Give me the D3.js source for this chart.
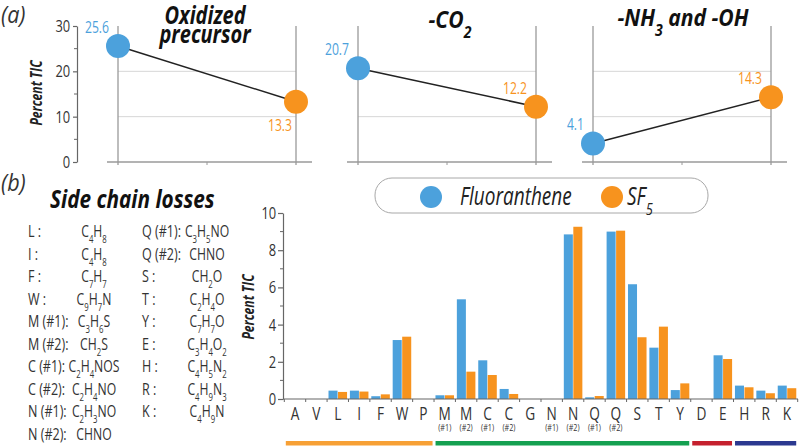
<!DOCTYPE html>
<html><head><meta charset="utf-8">
<script src="https://cdn.jsdelivr.net/npm/d3@7"></script>
<style>
html,body{margin:0;padding:0;background:#fff;}
svg{display:block;}
text{font-family:"Open Sans","Noto Sans","DejaVu Sans",sans-serif;}
</style></head>
<body><svg id="chart" width="800" height="446"></svg>
<script>
// ---------- DATA ----------
const seriesNames = ["Fluoranthene", "SF5"];
const panelTitles = [["Oxidized", "precursor"], ["-CO_2"], ["-NH_3 and -OH"]];
const panelFluor = [25.6, 20.7, 4.1];
const panelSF5 = [13.3, 12.2, 14.3];
const topTicks = [0, 10, 20, 30];
const topMinorTicks = [5, 15, 25];

const categories = ["A","V","L","I","F","W","P","M","M","C","C","G","N","N","Q","Q","S","T","Y","D","E","H","R","K"];
const catSubLabels = ["","","","","","","","(#1)","(#2)","(#1)","(#2)","","(#1)","(#2)","(#1)","(#2)","","","","","","","",""];
const fluorValues = [0,0,0.45,0.45,0.15,3.17,0,0.2,5.36,2.08,0.54,0,0,8.85,0.09,9.0,6.17,2.76,0.48,0,2.35,0.72,0.45,0.72];
const sf5Values   = [0,0,0.38,0.40,0.25,3.35,0,0.2,1.47,1.29,0.27,0,0,9.26,0.16,9.05,3.32,3.89,0.84,0,2.15,0.63,0.31,0.58];
const barTicks = [0,2,4,6,8,10];
const barMinorTicks = [1,3,5,7,9];
const groupStart = [0, 7, 19, 21];
const groupEnd = [6, 18, 20, 23];
const groupColors = ["#f7a035", "#14a050", "#c5202e", "#2b3990"];

const sideLeft = [["L :","C4H8"],["I :","C4H8"],["F :","C7H7"],["W :","C9H7N"],["M (#1):","C3H6S"],["M (#2):","CH2S"],["C (#1):","C2H4NOS"],["C (#2):","C2H4NO"],["N (#1):","C2H3NO"],["N (#2):","CHNO"]];
const sideRight = [["Q (#1):","C3H5NO"],["Q (#2):","CHNO"],["S :","CH2O"],["T :","C2H4O"],["Y :","C7H7O"],["E :","C3H4O2"],["H :","C4H5N2"],["R :","C4H9N3"],["K :","C4H9N"]];

// ---------- STYLE ----------
const BLUE = "#4ca1dc", ORANGE = "#f7931e", INK = "#333", AXIS = "#666";
const SX = 0.76; // horizontal condensing of glyphs
const svg = d3.select("#chart");

function tf(x, y, sx, rot) {
  return `translate(${x},${y})${rot ? ` rotate(${rot})` : ""} scale(${sx == null ? SX : sx},1)`;
}
function addText(parent, x, y, str, o) {
  o = o || {};
  const t = parent.append("text").attr("transform", tf(x, y, o.sx, o.rotate))
    .attr("font-size", o.size || 16).attr("fill", o.fill || INK)
    .attr("text-anchor", o.anchor || "start");
  if (o.bold) t.attr("font-weight", "bold");
  if (o.italic) t.attr("font-style", "italic");
  if (str != null) t.text(str);
  return t;
}
// text with subscripts; "_x" marks a subscript char, or digits when formula=true
function richText(sel, str, size, subSize, formula) {
  const parts = [];
  if (formula) {
    str.split(/(\d+)/).forEach(p => { if (p) parts.push({t: p, sub: /^\d+$/.test(p)}); });
  } else {
    str.split(/_(\w)/).forEach((p, i) => { if (p) parts.push({t: p, sub: i % 2 === 1}); });
  }
  const shift = Math.round(size * 0.4);
  let down = false;
  parts.forEach(p => {
    const ts = sel.append("tspan").text(p.t);
    if (p.sub && !down) { ts.attr("dy", shift).attr("font-size", subSize); down = true; }
    else if (!p.sub && down) { ts.attr("dy", -shift); down = false; }
    else if (p.sub) ts.attr("font-size", subSize);
  });
}

// ---------- (a) TOP PANELS ----------
const yTop = d3.scaleLinear().domain([0, 30]).range([162, 26]);
const panelLeft = [118, 358, 593];
const panelW = 178;
const titleCenter = [205, 450, 683];

addText(svg, 1, 23, "(a)", {size: 24, italic: true, sx: 0.9});

const yAx = svg.append("g").attr("transform", "translate(77,0)")
  .call(d3.axisLeft(yTop).tickValues(topTicks).tickSize(4).tickSizeOuter(0).tickPadding(5));
yAx.select(".domain").attr("stroke", AXIS).attr("stroke-width", 1.2);
yAx.selectAll(".tick line").attr("stroke", AXIS).attr("stroke-width", 1.2);
yAx.selectAll(".tick text").attr("font-size", 17).attr("fill", INK).attr("transform", `scale(${SX},1)`);
yAx.append("g").selectAll("line").data(topMinorTicks).join("line")
  .attr("x1", -3).attr("x2", 0).attr("y1", d => yTop(d)).attr("y2", d => yTop(d)).attr("stroke", AXIS);
addText(svg, 42, 93, "Percent TIC", {size: 16, bold: true, italic: true, anchor: "middle", rotate: -90, fill: "#222"});

const labelBelow = [[false, true], [false, false], [false, false]];

panelTitles.forEach((title, i) => {
  const x0 = panelLeft[i], x1 = x0 + panelW;
  const xp = d3.scalePoint().domain(seriesNames).range([x0, x1]);
  const g = svg.append("g");
  g.selectAll("line.h").data([10, 20]).join("line")
    .attr("x1", x0).attr("x2", x1).attr("y1", d => yTop(d)).attr("y2", d => yTop(d))
    .attr("stroke", "#d6d6d6").attr("stroke-width", 1);
  g.selectAll("line.v").data(seriesNames).join("line")
    .attr("x1", d => xp(d)).attr("x2", d => xp(d)).attr("y1", yTop(30)).attr("y2", yTop(0) + 3)
    .attr("stroke", "#9a9a9a").attr("stroke-width", 1.3);
  g.append("line").attr("x1", x0 - 11).attr("x2", x1 + 16).attr("y1", yTop(0)).attr("y2", yTop(0))
    .attr("stroke", "#9a9a9a").attr("stroke-width", 1.3);
  g.append("line").attr("x1", (x0 + x1) / 2).attr("x2", (x0 + x1) / 2).attr("y1", yTop(0)).attr("y2", yTop(0) + 3)
    .attr("stroke", "#9a9a9a").attr("stroke-width", 1);
  const vals = [panelFluor[i], panelSF5[i]];
  g.append("line").attr("x1", xp(seriesNames[0])).attr("y1", yTop(vals[0]))
    .attr("x2", xp(seriesNames[1])).attr("y2", yTop(vals[1])).attr("stroke", "#222").attr("stroke-width", 1.5);
  g.selectAll("circle").data(vals).join("circle")
    .attr("cx", (d, j) => xp(seriesNames[j])).attr("cy", d => yTop(d)).attr("r", 12)
    .attr("fill", (d, j) => j ? ORANGE : BLUE);
  g.selectAll("text.val").data(vals).join("text").attr("class", "val")
    .attr("transform", (d, j) => tf(xp(seriesNames[j]) - (labelBelow[i][j] ? 4 : 9),
                                    yTop(d) + (labelBelow[i][j] ? 29 : -13)))
    .attr("text-anchor", "end").attr("font-size", 16)
    .attr("fill", (d, j) => j ? ORANGE : BLUE).text(d => d.toFixed(1));
  title.forEach((line, k) => {
    const multi = title.length > 1;
    const yy = (multi ? 24 : (i === 1 ? 28 : 26)) + k * 19;
    const t = addText(svg, titleCenter[i], yy, null,
      {size: multi ? 25 : 24, bold: true, italic: true, anchor: "middle", fill: "#111", sx: multi ? 0.8 : 0.88});
    richText(t, line, 24, 16, false);
  });
});

// ---------- (b) SIDE CHAIN LIST ----------
addText(svg, 1, 191, "(b)", {size: 24, italic: true, sx: 0.9});
addText(svg, 50, 208, "Side chain losses", {size: 25, bold: true, italic: true, fill: "#111", sx: 0.83});

const rowY = d3.scalePoint().domain(d3.range(sideLeft.length)).range([237, 440]);
function drawList(list, labelX, formulaX) {
  list.forEach((r, i) => {
    addText(svg, labelX, rowY(i), r[0], {size: 16.5, sx: 0.76});
    const t = addText(svg, formulaX, rowY(i), null, {size: 16.5, anchor: "middle", sx: 0.74});
    richText(t, r[1], 14, 10.5, true);
  });
}
drawList(sideLeft, 28, 94);
drawList(sideRight, 142, 207);

// ---------- (b) BAR CHART ----------
const x = d3.scaleBand().domain(d3.range(categories.length)).range([284.3, 797.7]).padding(0);
const xi = d3.scaleBand().domain(seriesNames).range([0, x.bandwidth()]).paddingInner(0.05).paddingOuter(0.15);
const y = d3.scaleLinear().domain([0, 10]).range([399, 213]);

svg.append("g").selectAll("g").data(categories.map((c, i) => i)).join("g")
  .attr("transform", i => `translate(${x(i)},0)`)
  .selectAll("rect").data(i => [fluorValues[i], sf5Values[i]]).join("rect")
  .attr("x", (d, j) => xi(seriesNames[j])).attr("width", xi.bandwidth())
  .attr("y", d => y(d)).attr("height", d => y(0) - y(d))
  .attr("fill", (d, j) => j ? ORANGE : BLUE);

const yAxB = svg.append("g").attr("transform", "translate(283,0)")
  .call(d3.axisLeft(y).tickValues(barTicks).tickSize(5).tickSizeOuter(0).tickPadding(4));
yAxB.select(".domain").attr("stroke", AXIS).attr("stroke-width", 1.2);
yAxB.selectAll(".tick line").attr("stroke", AXIS).attr("stroke-width", 1.2);
yAxB.selectAll(".tick text").attr("font-size", 17).attr("fill", INK).attr("transform", `scale(${SX},1)`);
yAxB.append("g").selectAll("line").data(barMinorTicks).join("line")
  .attr("x1", -3).attr("x2", 0).attr("y1", d => y(d)).attr("y2", d => y(d)).attr("stroke", AXIS);
addText(svg, 254, 307, "Percent TIC", {size: 16, bold: true, italic: true, anchor: "middle", rotate: -90, fill: "#222"});

const xAxG = svg.append("g");
xAxG.append("line").attr("x1", 283).attr("x2", 798).attr("y1", y(0)).attr("y2", y(0)).attr("stroke", AXIS).attr("stroke-width", 1.2);
xAxG.selectAll("line.t").data(d3.range(categories.length + 1)).join("line")
  .attr("x1", i => x.range()[0] + i * x.step()).attr("x2", i => x.range()[0] + i * x.step())
  .attr("y1", y(0)).attr("y2", y(0) + 3).attr("stroke", AXIS);
xAxG.selectAll("text.c").data(categories).join("text")
  .attr("transform", (d, i) => tf(x(i) + x.bandwidth() / 2, 420))
  .attr("text-anchor", "middle").attr("font-size", 18).attr("fill", INK).text(d => d);
xAxG.selectAll("text.s").data(catSubLabels).join("text")
  .attr("transform", (d, i) => tf(x(i) + x.bandwidth() / 2, 431))
  .attr("text-anchor", "middle").attr("font-size", 9.5).attr("fill", INK).text(d => d);

svg.selectAll("rect.grp").data(groupStart).join("rect")
  .attr("x", (s, k) => x(s) + 1.5).attr("width", (s, k) => x(groupEnd[k]) + x.bandwidth() - x(s) - 3)
  .attr("y", 441).attr("height", 4.5).attr("fill", (s, k) => groupColors[k]);

// legend
const lg = svg.append("g");
lg.append("rect").attr("x", 375).attr("y", 178).attr("width", 333).attr("height", 35).attr("rx", 17)
  .attr("fill", "#fff").attr("stroke", "#a8a8a8").attr("stroke-width", 1);
lg.append("circle").attr("cx", 431).attr("cy", 197).attr("r", 11).attr("fill", BLUE);
addText(lg, 460, 205, seriesNames[0], {size: 25, italic: true, fill: "#222"});
lg.append("circle").attr("cx", 612).attr("cy", 197).attr("r", 11).attr("fill", ORANGE);
const sft = addText(lg, 627, 205, null, {size: 25, italic: true, fill: "#222"});
richText(sft, "SF_5", 25, 17, false);
</script></body></html>
